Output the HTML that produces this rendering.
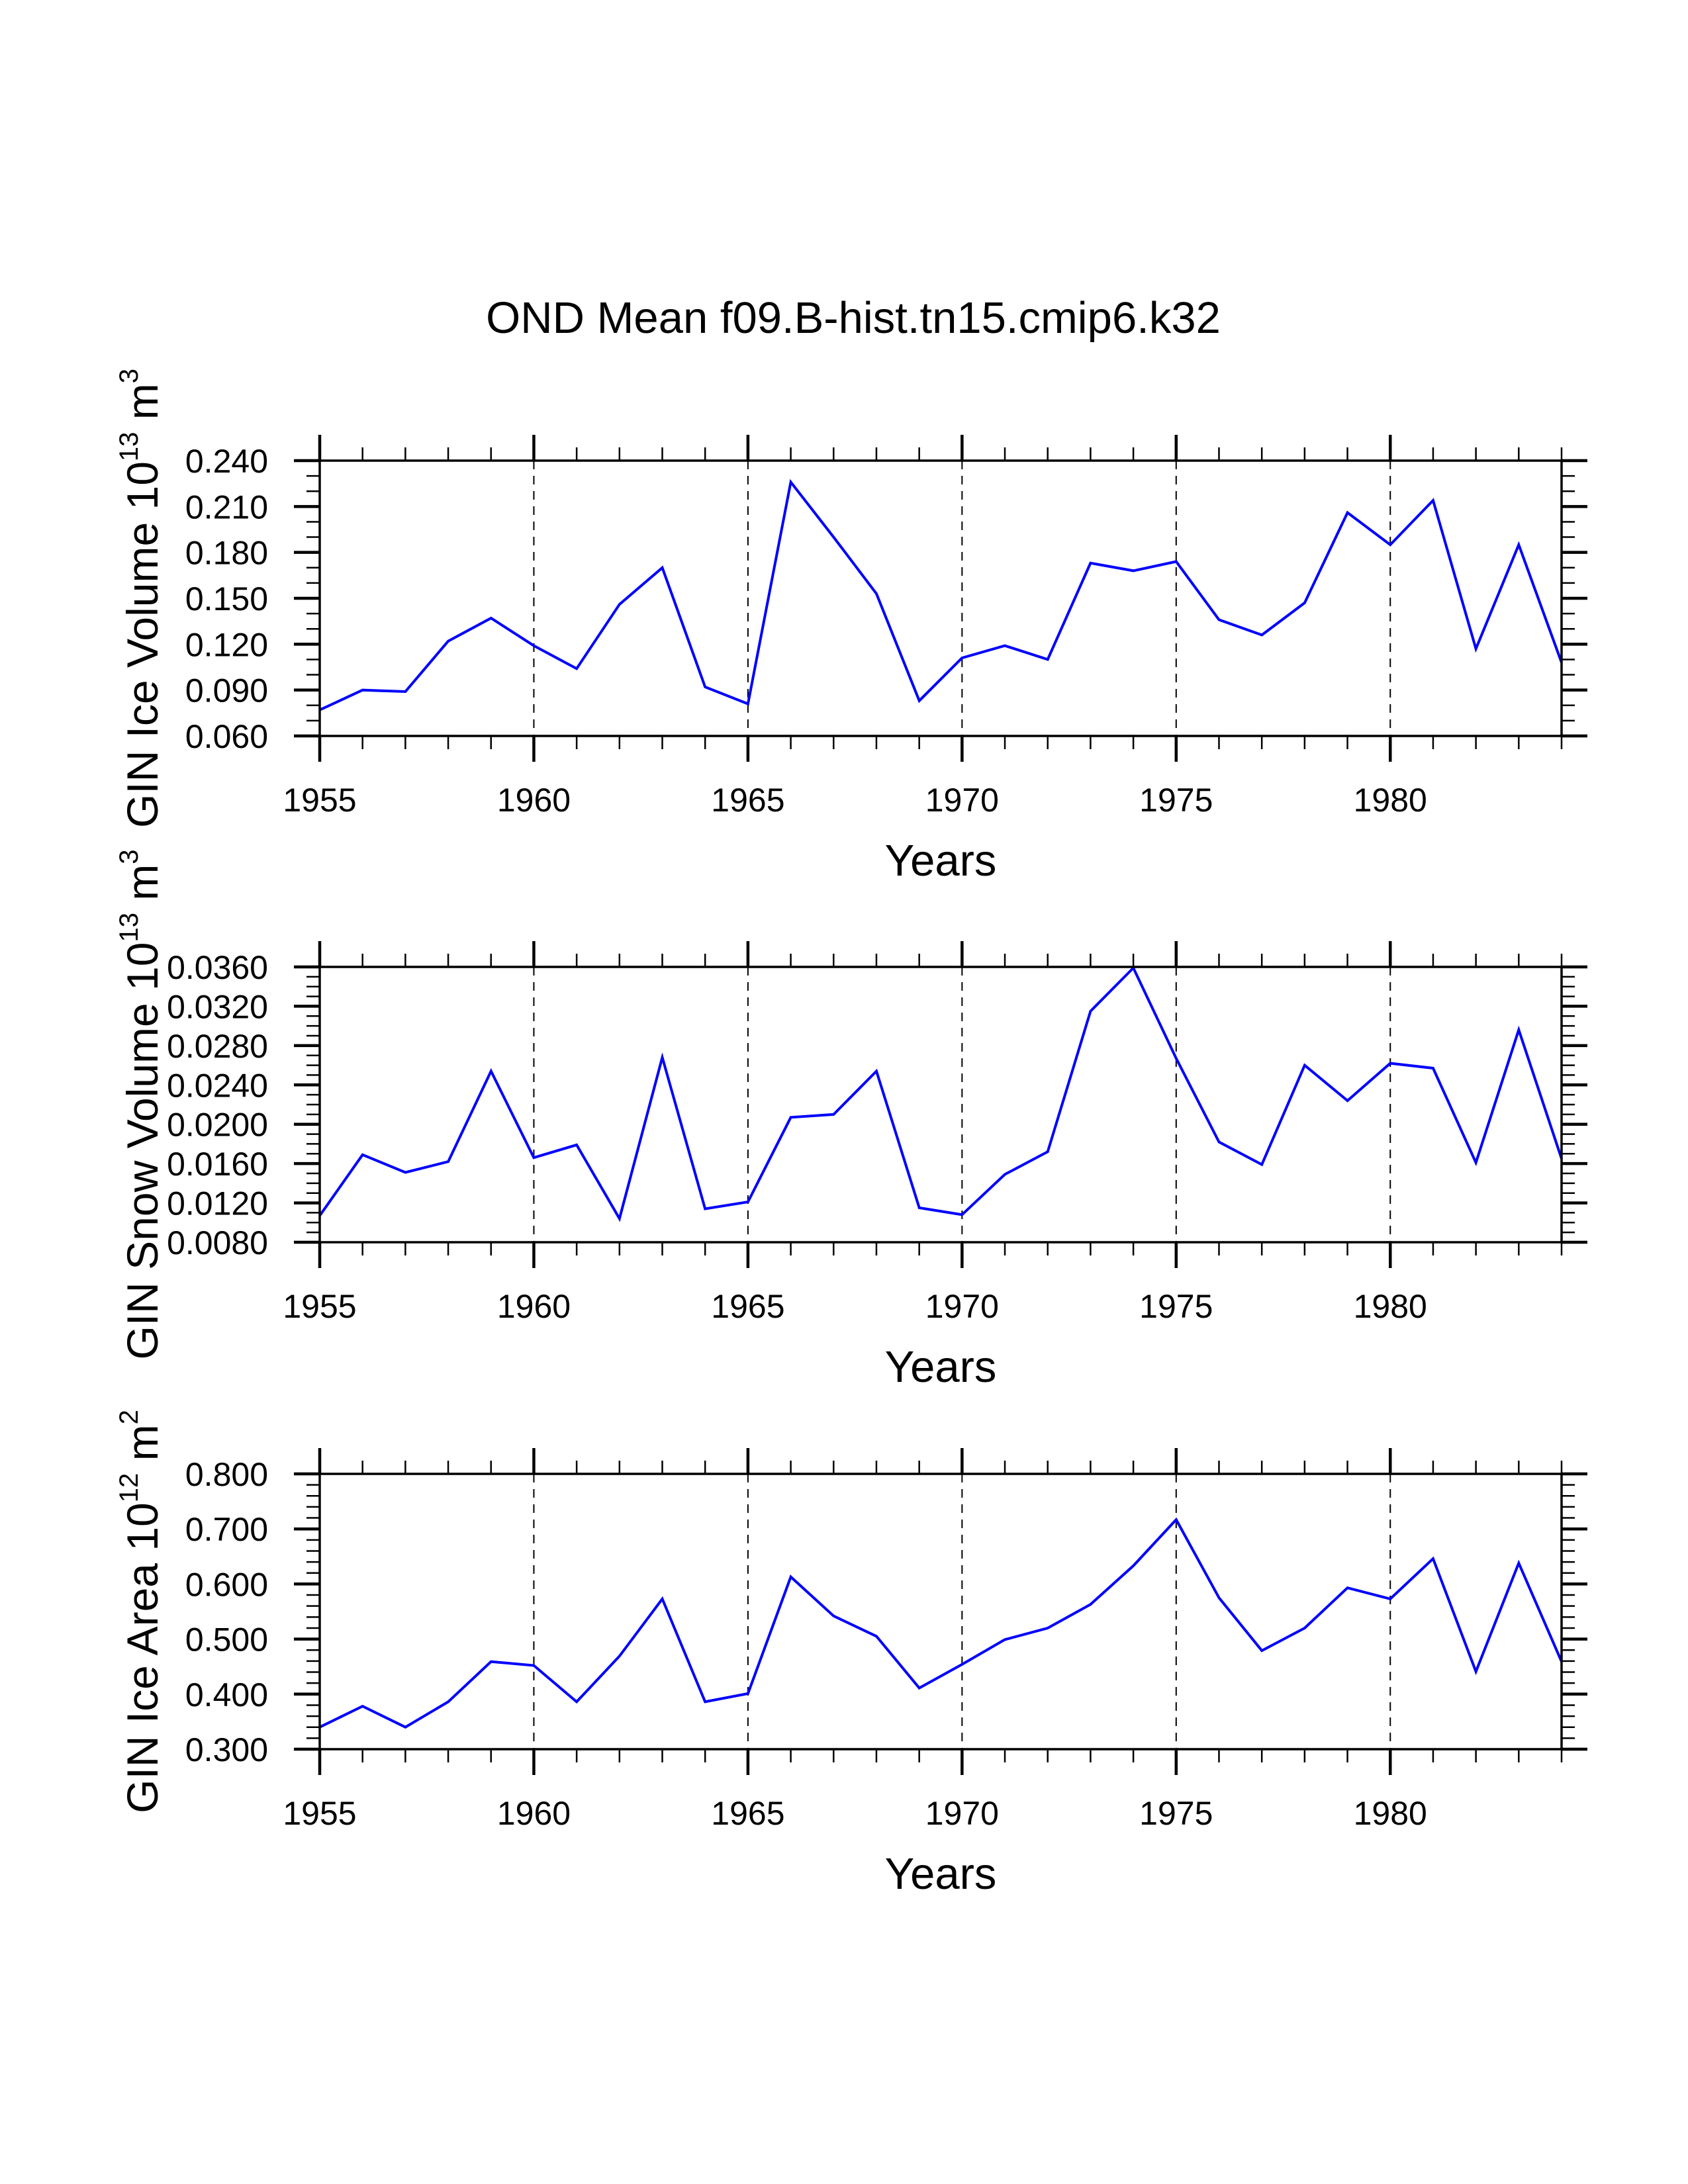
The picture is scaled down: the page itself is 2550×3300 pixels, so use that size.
<!DOCTYPE html>
<html><head><meta charset="utf-8"><style>
html,body{margin:0;padding:0;background:#fff}
svg{display:block}
text{font-family:"Liberation Sans",Arial,sans-serif;fill:#000}
</style></head>
<body>
<svg id="chart" xmlns="http://www.w3.org/2000/svg" width="2550" height="3300" viewBox="0 0 2550 3300">
<rect width="2550" height="3300" fill="#fff"/>
<text x="1289" y="503" font-size="67" text-anchor="middle">OND Mean f09.B-hist.tn15.cmip6.k32</text>
</svg>
<script>
const years = [1955,1956,1957,1958,1959,1960,1961,1962,1963,1964,1965,1966,1967,1968,1969,1970,1971,1972,1973,1974,1975,1976,1977,1978,1979,1980,1981,1982,1983,1984];
const iceVolume = [0.077,0.090,0.089,0.122,0.137,0.119,0.104,0.146,0.170,0.092,0.081,0.226,0.190,0.153,0.083,0.111,0.119,0.110,0.173,0.168,0.174,0.136,0.126,0.147,0.206,0.185,0.214,0.117,0.185,0.108];
const snowVolume = [0.0107,0.0169,0.0151,0.0162,0.0254,0.0166,0.0179,0.0104,0.0268,0.0114,0.0121,0.0207,0.0210,0.0254,0.0115,0.0108,0.0149,0.0172,0.0315,0.0359,0.0267,0.0182,0.0159,0.0260,0.0224,0.0262,0.0257,0.0161,0.0296,0.0165];
const iceArea = [0.340,0.378,0.340,0.386,0.459,0.452,0.386,0.469,0.573,0.386,0.401,0.613,0.542,0.505,0.411,0.454,0.499,0.520,0.563,0.633,0.717,0.575,0.479,0.520,0.593,0.573,0.646,0.441,0.638,0.459];
const xTickLabels = ["1955","1960","1965","1970","1975","1980"];
const iceVolTicks = ["0.060","0.090","0.120","0.150","0.180","0.210","0.240"];
const snowVolTicks = ["0.0080","0.0120","0.0160","0.0200","0.0240","0.0280","0.0320","0.0360"];
const iceAreaTicks = ["0.300","0.400","0.500","0.600","0.700","0.800"];

const NS="http://www.w3.org/2000/svg";
const svg=document.getElementById('chart');
const X0=483, X1=2359, H=416;
const xMin=1955, xMax=1984;
function xs(v){return X0+(v-xMin)/(xMax-xMin)*(X1-X0);}
function mk(tag,attrs,parent){const e=document.createElementNS(NS,tag);for(const k in attrs)e.setAttribute(k,attrs[k]);(parent||svg).appendChild(e);return e;}

function panel(top,values,ticks,nMinor,name,titleMain,sup,unit,unitSup){
  const g=mk('g',{});
  
  
  const bot=top+H;
  const yMin=parseFloat(ticks[0]), yMax=parseFloat(ticks[ticks.length-1]);
  const ys=v=>bot-(v-yMin)/(yMax-yMin)*H;
  for(let yr=1960;yr<=1980;yr+=5){
    const l=mk('line',{x1:xs(yr),x2:xs(yr),y1:top,y2:bot,stroke:'#000','stroke-width':2,'stroke-dasharray':'13,10'},g);
    
    
  }
  for(let yr=xMin;yr<=xMax;yr++){
    const major=(yr%5===0);const len=major?39:20;const w=major?4.5:2.5;
    const x=xs(yr);
    const t1=mk('line',{x1:x,x2:x,y1:top,y2:top-len,stroke:'#000','stroke-width':w},g);
    
    
    const t2=mk('line',{x1:x,x2:x,y1:bot,y2:bot+len,stroke:'#000','stroke-width':w},g);
    
    
  }
  xTickLabels.forEach(s=>{
    const t=mk('text',{x:xs(parseFloat(s)),y:bot+114,'font-size':50,'text-anchor':'middle'},g);
    t.textContent=s;
    
    
  });
  const nInt=ticks.length-1;
  for(let i=0;i<=nInt*nMinor;i++){
    const v=yMin+(yMax-yMin)*i/(nInt*nMinor);const y=ys(v);
    const major=(i%nMinor===0);const len=major?39:20;const w=major?4.5:2.5;
    const a=mk('line',{x1:X0,x2:X0-len,y1:y,y2:y,stroke:'#000','stroke-width':w},g);
    
    
    const b=mk('line',{x1:X1,x2:X1+len,y1:y,y2:y,stroke:'#000','stroke-width':w},g);
    
    
  }
  ticks.forEach(s=>{
    const t=mk('text',{x:405,y:ys(parseFloat(s))+18,'font-size':50,'text-anchor':'end'},g);
    t.textContent=s;
    
    
  });
  const pts=years.map((yr,i)=>xs(yr).toFixed(1)+','+ys(values[i]).toFixed(1)).join(' ');
  const pl=mk('polyline',{points:pts,fill:'none',stroke:'#0000ff','stroke-width':4,'stroke-linejoin':'miter'},g);
  
  
  const fr=mk('rect',{x:X0,y:top,width:X1-X0,height:H,fill:'none',stroke:'#000','stroke-width':3.5},g);
  
  
  const xt=mk('text',{x:(X0+X1)/2,y:bot+211,'font-size':67,'text-anchor':'middle'},g);
  xt.textContent='Years';
  
  
  const cy=top+H/2;
  const yt=mk('text',{x:0,y:0,'font-size':66,'text-anchor':'middle',transform:`translate(238,${cy}) rotate(-90)`},g);
  
  
  const s1=document.createElementNS(NS,'tspan');s1.textContent=titleMain;yt.appendChild(s1);
  const s2=document.createElementNS(NS,'tspan');s2.setAttribute('dy','-30');s2.setAttribute('font-size','40');s2.textContent=sup;yt.appendChild(s2);
  const s3=document.createElementNS(NS,'tspan');s3.setAttribute('dy','30');s3.textContent=' '+unit;yt.appendChild(s3);
  const s4=document.createElementNS(NS,'tspan');s4.setAttribute('dy','-30');s4.setAttribute('font-size','40');s4.textContent=unitSup;yt.appendChild(s4);
}
panel(696,iceVolume,iceVolTicks,3,'ice-volume','GIN Ice Volume 10','13','m','3');
panel(1461,snowVolume,snowVolTicks,4,'snow-volume','GIN Snow Volume 10','13','m','3');
panel(2227,iceArea,iceAreaTicks,5,'ice-area','GIN Ice Area 10','12','m','2');
</script>
</body></html>
